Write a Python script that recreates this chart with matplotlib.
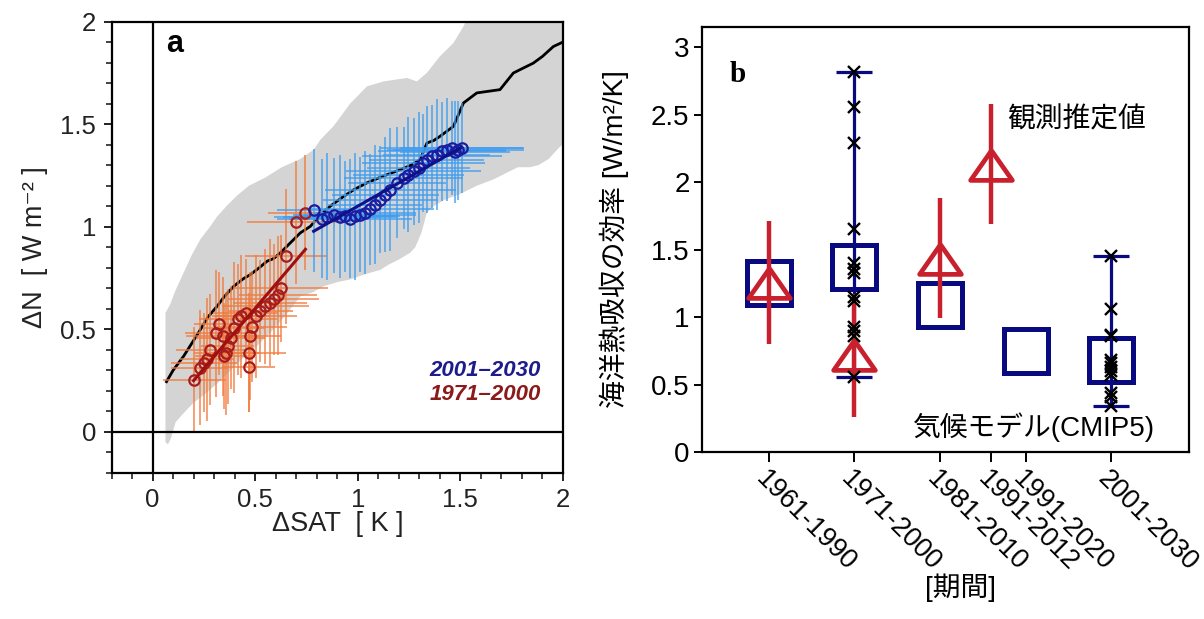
import numpy as np
import matplotlib
matplotlib.use("Agg")
import matplotlib.pyplot as plt
from matplotlib.ticker import MultipleLocator

plt.rcParams['font.family'] = ['Liberation Sans', 'Noto Sans CJK JP', 'DejaVu Sans']

# ---------------- panel a data ----------------
# model spread (grey envelope)
env_up_x = [0.063, 0.085, 0.112, 0.152, 0.19, 0.234, 0.28, 0.315, 0.36, 0.41, 0.47, 0.55, 0.63,
            0.72, 0.785, 0.818, 0.882, 0.963, 1.045, 1.126, 1.24, 1.288, 1.337, 1.40, 1.466,
            1.515, 1.55, 2.0]
env_up_y = [0.58, 0.62, 0.69, 0.777, 0.86, 0.94, 1.00, 1.05, 1.10, 1.15, 1.20, 1.24, 1.29,
            1.33, 1.375, 1.424, 1.49, 1.60, 1.684, 1.708, 1.725, 1.708, 1.75, 1.83, 1.895,
            1.976, 2.05, 2.05]
env_lo_x = [2.0, 1.985, 1.93, 1.88, 1.84, 1.78, 1.72, 1.66, 1.58, 1.50, 1.42, 1.37, 1.337,
            1.31, 1.28, 1.255, 1.20, 1.15, 1.11, 1.04, 0.963, 0.90, 0.834, 0.78, 0.72, 0.65,
            0.58, 0.50, 0.42, 0.32, 0.25, 0.20, 0.15, 0.112, 0.09, 0.075, 0.063]
env_lo_y = [1.40, 1.39, 1.33, 1.30, 1.29, 1.29, 1.26, 1.23, 1.20, 1.16, 1.13, 1.10, 1.07,
            0.97, 0.90, 0.873, 0.84, 0.815, 0.79, 0.77, 0.743, 0.73, 0.71, 0.68, 0.66, 0.57,
            0.49, 0.41, 0.34, 0.24, 0.18, 0.143, 0.09, 0.047, -0.03, -0.06, -0.05]

# model mean
mean_x = [0.068, 0.10, 0.152, 0.19, 0.234, 0.27, 0.315, 0.35, 0.396, 0.44, 0.477, 0.52, 0.558,
          0.59, 0.623, 0.688, 0.72, 0.769, 0.82, 0.866, 0.92, 0.98, 1.045, 1.12, 1.207, 1.26,
          1.304, 1.337, 1.37, 1.40, 1.466, 1.515, 1.58, 1.693, 1.758, 1.80, 1.855, 1.90,
          1.953, 2.0]
mean_y = [0.245, 0.30, 0.37, 0.43, 0.50, 0.56, 0.613, 0.66, 0.71, 0.745, 0.767, 0.80, 0.832,
          0.845, 0.873, 0.938, 0.97, 1.002, 1.06, 1.10, 1.14, 1.18, 1.214, 1.245, 1.278, 1.30,
          1.327, 1.408, 1.42, 1.44, 1.489, 1.603, 1.652, 1.668, 1.749, 1.77, 1.797, 1.83,
          1.878, 1.90]

# 1971-2000 annual estimates
p1_x = [0.204, 0.230, 0.250, 0.266, 0.282, 0.307, 0.323, 0.344, 0.347, 0.360, 0.366, 0.380,
        0.396, 0.415, 0.432, 0.453, 0.469, 0.470, 0.474, 0.485, 0.506, 0.526, 0.550, 0.571,
        0.590, 0.610, 0.626, 0.652, 0.700, 0.745]
p1_y = [0.253, 0.313, 0.338, 0.354, 0.400, 0.480, 0.527, 0.467, 0.370, 0.383, 0.418, 0.459,
        0.508, 0.548, 0.564, 0.581, 0.316, 0.386, 0.467, 0.513, 0.564, 0.589, 0.613, 0.630,
        0.646, 0.665, 0.700, 0.856, 1.022, 1.068]
p1_xerr = [0.155, 0.14, 0.16, 0.13, 0.17, 0.15, 0.12, 0.18, 0.14, 0.16, 0.13, 0.17, 0.15,
           0.19, 0.14, 0.16, 0.13, 0.18, 0.15, 0.17, 0.20, 0.16, 0.21, 0.18, 0.22, 0.19,
           0.23, 0.20, 0.24, 0.18]
p1_yerr = [0.26, 0.28, 0.24, 0.30, 0.27, 0.31, 0.25, 0.29, 0.26, 0.30, 0.28, 0.25, 0.32,
           0.27, 0.30, 0.26, 0.22, 0.29, 0.31, 0.27, 0.30, 0.25, 0.28, 0.31, 0.27, 0.29,
           0.26, 0.33, 0.30, 0.28]

# 2001-2030 annual estimates
p2_x = [0.785, 0.826, 0.850, 0.882, 0.915, 0.939, 0.963, 0.988, 1.012, 1.036, 1.061, 1.085,
        1.109, 1.134, 1.158, 1.190, 1.223, 1.247, 1.272, 1.296, 1.320, 1.337, 1.361, 1.385,
        1.410, 1.434, 1.458, 1.474, 1.490, 1.507]
p2_y = [1.080, 1.038, 1.048, 1.055, 1.048, 1.051, 1.038, 1.051, 1.059, 1.068, 1.084, 1.108,
        1.132, 1.157, 1.180, 1.214, 1.238, 1.254, 1.270, 1.287, 1.311, 1.327, 1.343, 1.351,
        1.367, 1.375, 1.384, 1.364, 1.372, 1.384]
p2_xerr = [0.18, 0.22, 0.26, 0.20, 0.28, 0.24, 0.30, 0.22, 0.27, 0.25, 0.31, 0.23, 0.28,
           0.26, 0.32, 0.24, 0.29, 0.27, 0.33, 0.25, 0.30, 0.28, 0.34, 0.26, 0.31, 0.29,
           0.35, 0.27, 0.32, 0.30]
p2_yerr = [0.30, 0.29, 0.31, 0.28, 0.30, 0.27, 0.29, 0.31, 0.28, 0.30, 0.27, 0.29, 0.26,
           0.28, 0.30, 0.27, 0.25, 0.28, 0.26, 0.27, 0.24, 0.26, 0.25, 0.27, 0.24, 0.25,
           0.23, 0.25, 0.24, 0.22]

# regression lines (end points)
fit1_x = [0.20, 0.745]
fit1_y = [0.25, 0.89]
fit2_x = [0.785, 1.50]
fit2_y = [0.978, 1.384]

tick_a = [0, 0.5, 1, 1.5, 2]
tick_a_labels = ['0', '0.5', '1', '1.5', '2']

# ---------------- panel b data ----------------
periods = ['1961-1990', '1971-2000', '1981-2010', '1991-2012', '1991-2020', '2001-2030']
model_mean = [1.25, 1.37, 1.09, np.nan, 0.75, 0.68]
obs_val = [1.25, 0.72, 1.43, 2.13, np.nan, np.nan]
obs_lo = [0.80, 0.26, 0.99, 1.69, np.nan, np.nan]
obs_hi = [1.71, 1.17, 1.88, 2.58, np.nan, np.nan]
range_periods = ['1971-2000', '2001-2030']
range_lo = [0.553, 0.34]
range_hi = [2.82, 1.45]
models_1971 = [2.82, 2.56, 2.29, 1.65, 1.40, 1.36, 1.33, 1.15, 1.12, 0.93, 0.90, 0.86, 0.553]
models_2001 = [1.45, 1.06, 0.87, 0.86, 0.68, 0.66, 0.63, 0.60, 0.57, 0.44, 0.41, 0.34]
tick_b = [0, 0.5, 1, 1.5, 2, 2.5, 3]
tick_b_labels = ['0', '0.5', '1', '1.5', '2', '2.5', '3']

# mid-year of each period
xpos = [(int(p[:4]) + int(p[5:])) / 2 for p in periods]
pos = dict(zip(periods, xpos))

fig = plt.figure(figsize=(12.04, 6.19), dpi=100)

# ================= panel a =================
ax1 = fig.add_axes([111.5 / 1204, 1 - 473 / 619, 451.5 / 1204, 451.5 / 619])
ax1.fill(np.concatenate([env_up_x, env_lo_x]), np.concatenate([env_up_y, env_lo_y]),
         color='#d4d4d4', lw=0, zorder=1)
ax1.plot(mean_x, mean_y, color='black', lw=2.0, zorder=2)
ax1.errorbar(p1_x, p1_y, xerr=p1_xerr, yerr=p1_yerr, fmt='none', ecolor='#f27a3c',
             elinewidth=1.1, alpha=0.9, zorder=3)
ax1.errorbar(p2_x, p2_y, xerr=p2_xerr, yerr=p2_yerr, fmt='none', ecolor='#3d9cf0',
             elinewidth=1.1, alpha=0.9, zorder=3)
ax1.plot(p1_x, p1_y, 'o', ms=7.5, mfc='none', mec='#a81c1c', mew=1.6, zorder=4)
ax1.plot(p2_x, p2_y, 'o', ms=7.5, mfc='none', mec='#1c1ca0', mew=1.6, zorder=4)
ax1.plot(fit1_x, fit1_y, color='#a01010', lw=2.2, zorder=5)
ax1.plot(fit2_x, fit2_y, color='#10108a', lw=2.2, zorder=5)
ax1.axhline(0, color='black', lw=1.6, zorder=6)
ax1.axvline(0, color='black', lw=1.6, zorder=6)

ax1.set_xlim(-0.2, 2.0)
ax1.set_ylim(-0.2, 2.0)
ax1.set_xticks(tick_a)
ax1.set_xticklabels(tick_a_labels)
ax1.set_yticks(tick_a)
ax1.set_yticklabels(tick_a_labels)
ax1.xaxis.set_minor_locator(MultipleLocator(0.1))
ax1.yaxis.set_minor_locator(MultipleLocator(0.1))
ax1.tick_params(which='major', direction='out', length=6, width=1.4, labelsize=18.5,
                pad=5, colors='#222222')
ax1.tick_params(which='minor', direction='out', length=4, width=1.2, colors='#222222')
for s in ax1.spines.values():
    s.set_linewidth(1.6)
ax1.set_xlabel('ΔSAT  [ K ]', fontsize=19.5, color='#222222')
ax1.set_ylabel('ΔN  [ W m⁻² ]', fontsize=19.5, color='#222222')
ax1.xaxis.set_label_coords(0.5, -0.085)
ax1.yaxis.set_label_coords(-0.14, 0.5)

ax1.text(0.122, 0.932, 'a', transform=ax1.transAxes, fontsize=22, fontweight='bold',
         family='Liberation Sans', va='baseline', ha='left')
ax1.text(0.951, 0.226, '2001–2030', transform=ax1.transAxes, fontsize=16,
         fontweight='bold', style='italic', color='#1c1c8c', ha='right', va='center')
ax1.text(0.951, 0.174, '1971–2000', transform=ax1.transAxes, fontsize=16,
         fontweight='bold', style='italic', color='#8b1a1a', ha='right', va='center')

# ================= panel b =================
navy = '#0a0a80'
red = '#c8202c'
ax2 = fig.add_axes([702 / 1204, 1 - 452 / 619, 487 / 1204, 425 / 619])

rx = [pos[p] for p in range_periods]
rmid = [(lo + hi) / 2 for lo, hi in zip(range_lo, range_hi)]
rerr = [(hi - lo) / 2 for lo, hi in zip(range_lo, range_hi)]
ax2.errorbar(rx, rmid, yerr=rerr, fmt='none', ecolor=navy, elinewidth=2.3, capsize=13,
             capthick=2.3, zorder=2)
ax2.plot(xpos, model_mean, 's', ms=31, mfc='none', mec=navy, mew=3.6, zorder=3)

ox = np.array(xpos)
ov = np.array(obs_val)
olo = np.array(obs_lo)
ohi = np.array(obs_hi)
ax2.vlines(ox, olo, ohi, color=red, lw=3.2, zorder=4)
tri = [(0, 1), (-1.4, -1), (1.4, -1), (0, 1)]
ax2.plot(ox, ov, ls='none', marker=tri, ms=30, mfc='none', mec=red, mew=3.4, zorder=5)

ax2.plot([pos['1971-2000']] * len(models_1971), models_1971, 'x', ms=8, color='black',
         mew=1.7, zorder=6)
ax2.plot([pos['2001-2030']] * len(models_2001), models_2001, 'x', ms=8, color='black',
         mew=1.7, zorder=6)

ax2.set_xlim(1967.7, 2024.6)
ax2.set_ylim(0, 3.15)
ax2.set_yticks(tick_b)
ax2.set_yticklabels(tick_b_labels)
ax2.set_xticks(xpos)
ax2.set_xticklabels(periods, rotation=-45, ha='left', va='top', rotation_mode='anchor')
ax2.tick_params(axis='y', direction='out', length=6, width=1.4, labelsize=20, pad=3)
ax2.tick_params(axis='x', direction='out', length=7, width=1.4, labelsize=19.5, pad=3)
for s in ax2.spines.values():
    s.set_linewidth(1.6)
ax2.set_ylabel('海洋熱吸収の効率 [W/m²/K]', fontsize=20)
ax2.yaxis.set_label_coords(-0.15, 0.5)
ax2.set_xlabel('[期間]', fontsize=20)
ax2.xaxis.set_label_coords(0.53, -0.285)

ax2.text(0.0575, 0.871, 'b', transform=ax2.transAxes, fontsize=21, fontweight='bold',
         family='Liberation Serif', va='baseline', ha='left')
ax2.text(0.626, 0.781, '観測推定値', transform=ax2.transAxes, fontsize=20,
         ha='left', va='center')
ax2.text(0.93, 0.058, '気候モデル(CMIP5)', transform=ax2.transAxes, fontsize=20,
         ha='right', va='center')

fig.savefig('out.png', dpi=100)
